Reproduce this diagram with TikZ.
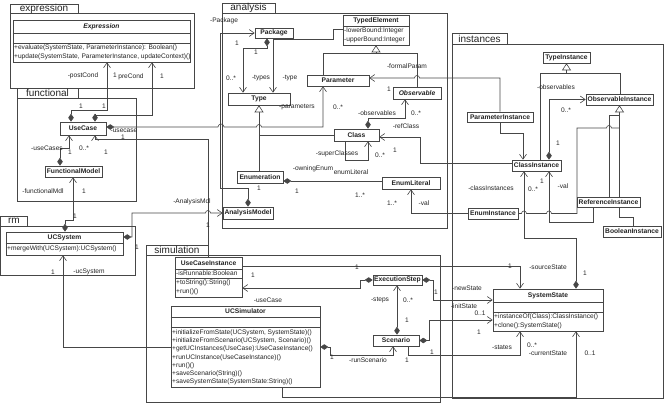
\documentclass[tikz,border=0pt]{standalone}
\usepackage{fontspec}
\setmainfont{Liberation Sans}
\usetikzlibrary{arrows.meta}
\pgfdeclarelayer{frames}
\pgfdeclarelayer{bg}
\pgfsetlayers{frames,bg,main}
\definecolor{ln}{RGB}{70,70,70}
\definecolor{tx}{RGB}{35,35,35}
\tikzset{
  box/.style={draw=ln, fill=white, line width=0.6pt, inner sep=0pt, font=\fontsize{6.7}{8}\selectfont\bfseries, text=tx},
  frame/.style={draw=ln, line width=0.6pt},
  tab/.style={draw=ln, line width=0.6pt, inner sep=0pt, font=\fontsize{10}{12}\selectfont, text=tx},
  lbl/.style={inner sep=0pt, font=\fontsize{6.6}{8}\selectfont, text=tx},
  ttl/.style={inner sep=0pt, font=\fontsize{6.7}{8}\selectfont\bfseries, text=tx},
  op/.style={lbl, anchor=west},
  cn/.style={draw=ln, line width=0.6pt},
  arr/.style={cn, -{Straight Barb[length=5pt,width=7pt]}},
  comp/.style={cn, {Diamond[length=8pt,width=5.5pt]}-},
  comparr/.style={cn, {Diamond[length=8pt,width=5.5pt]}-{Straight Barb[length=5pt,width=7pt]}},
  gen/.style={cn, -{Triangle[open,length=7pt,width=9pt,fill=white]}},
}
\newcommand\compline[2]{\draw[cn] (#1.west |- 0,#2) -- (#1.east |- 0,#2);}
\begin{document}
\begin{tikzpicture}[x=1pt,y=-1pt]
\useasboundingbox (0,0) rectangle (667,404);
% ---------------- frames ----------------
\begin{pgfonlayer}{frames}
\draw[frame] (10,13) rectangle (194,88);
\node[tab, minimum width=68pt, minimum height=9pt] (texpr) at (44,8.5) {expression};
\draw[frame] (222,13) rectangle (447,228);
\node[tab, minimum width=53pt, minimum height=10pt] (tana) at (248.5,8) {analysis};
\draw[frame] (17,98) rectangle (136,201);
\node[tab, minimum width=61pt, minimum height=10pt] (tfun) at (47.5,93) {functional};
\draw[frame] (452,44) rectangle (663,398);
\node[tab, minimum width=55pt, minimum height=11pt] (tins) at (479.5,38.5) {instances};
\draw[frame] (0.4,226) rectangle (135,275);
\node[tab, minimum width=27pt, minimum height=10pt] (trm) at (13.9,221) {rm};
\draw[frame] (146,255) rectangle (440,402);
\node[tab, minimum width=62pt, minimum height=10pt] (tsim) at (177,250) {simulation};
\end{pgfonlayer}
% ---------------- classes ----------------
% Expression
\node[box, minimum width=177pt, minimum height=42pt] (ex) at (101.5,41) {};
\node[ttl, font=\fontsize{6.7}{8}\selectfont\bfseries\itshape] (exT) at (101.5,26.5) {Expression};
\compline{ex}{33}\compline{ex}{43}
\node[op] (exO1) at (14,48) {+evaluate(SystemState, ParameterInstance): Boolean()};
\node[op] (exO2) at (14,57) {+update(SystemState, ParameterInstance, updateContext)()};
% functional
\node[box, minimum width=46pt, minimum height=13pt] (uc) at (83,128.5) {UseCase};
\node[box, minimum width=57pt, minimum height=11pt] (fm) at (73.5,171.5) {FunctionalModel};
% rm
\node[box, minimum width=117pt, minimum height=23pt] (ucs) at (64.5,243.5) {};
\node[ttl] (ucsT) at (64.5,237.5) {UCSystem};
\compline{ucs}{243}
\node[op] (ucsO) at (7,249) {+mergeWith(UCSystem):UCSystem()};
% analysis
\node[box, minimum width=50pt, minimum height=12pt] (am) at (248,213) {AnalysisModel};
\node[box, minimum width=38pt, minimum height=10pt] (pkg) at (274,33) {Package};
\node[box, minimum width=66pt, minimum height=30pt] (te) at (376,30) {};
\node[ttl] (teT) at (376,20.5) {TypedElement};
\compline{te}{26}
\node[op] (teA1) at (344,31) {-lowerBound:Integer};
\node[op] (teA2) at (344,39.5) {-upperBound:Integer};
\node[box, minimum width=62pt, minimum height=12pt] (type) at (259,99) {Type};
\node[box, minimum width=62pt, minimum height=11pt] (par) at (338,80.5) {Parameter};
\node[box, minimum width=48pt, minimum height=12pt, font=\fontsize{6.7}{8}\selectfont\bfseries\itshape] (obs) at (417,93) {Observable};
\node[box, minimum width=45pt, minimum height=12pt] (cls) at (356.5,135) {Class};
\node[box, minimum width=46pt, minimum height=12pt] (enum) at (260,177) {Enumeration};
\node[box, minimum width=58pt, minimum height=12pt] (el) at (411,183) {EnumLiteral};
% instances
\node[box, minimum width=47pt, minimum height=11pt] (ti) at (566.5,57.5) {TypeInstance};
\node[box, minimum width=67pt, minimum height=11pt] (oi) at (619.5,99.5) {ObservableInstance};
\node[box, minimum width=66pt, minimum height=10pt] (pi) at (500,117) {ParameterInstance};
\node[box, minimum width=49pt, minimum height=11pt] (ci) at (536.5,165.5) {ClassInstance};
\node[box, minimum width=50pt, minimum height=11pt] (ei) at (493,213.5) {EnumInstance};
\node[box, minimum width=63pt, minimum height=10pt] (ri) at (608.5,202) {ReferenceInstance};
\node[box, minimum width=58pt, minimum height=11pt] (bi) at (632,231.5) {BooleanInstance};
\node[box, minimum width=110pt, minimum height=42pt] (ss) at (548,310) {};
\node[ttl] (ssT) at (548,295.5) {SystemState};
\compline{ss}{302}\compline{ss}{312}
\node[op] (ssO1) at (494,317) {+instanceOf(Class):ClassInstance()};
\node[op] (ssO2) at (494,325.5) {+clone():SystemState()};
% simulation
\node[box, minimum width=67pt, minimum height=40pt] (uci) at (208.5,277) {};
\node[ttl] (uciT) at (208.5,263) {UseCaseInstance};
\compline{uci}{269}\compline{uci}{278}
\node[op] (uciA) at (176,273.5) {-isRunnable:Boolean};
\node[op] (uciO1) at (176,283) {+toString():String()};
\node[op] (uciO2) at (176,292) {+run()()};
\node[box, minimum width=149pt, minimum height=81pt] (ucsim) at (245.5,346.5) {};
\node[ttl] (ucsimT) at (245.5,311.5) {UCSimulator};
\compline{ucsim}{317}\compline{ucsim}{327}
\node[op] (sO1) at (172,332.5) {+initializeFromState(UCSystem, SystemState)()};
\node[op] (sO2) at (172,340.5) {+initializeFromScenario(UCSystem, Scenario)()};
\node[op] (sO3) at (172,349) {+getUCInstances(UseCase):UseCaseInstance()};
\node[op] (sO4) at (172,357.5) {+runUCInstance(UseCaseInstance)()};
\node[op] (sO5) at (172,365.5) {+run()()};
\node[op] (sO6) at (172,374) {+saveScenario(String)()};
\node[op] (sO7) at (172,382) {+saveSystemState(SystemState:String)()};
\node[box, minimum width=49pt, minimum height=10pt] (es) at (397.5,280) {ExecutionStep};
\node[box, minimum width=46pt, minimum height=11pt] (sc) at (396,340.5) {Scenario};
% ---------------- connectors ----------------
\begin{pgfonlayer}{bg}
\draw[comparr] (uc.north -| 71,0) |- (107,110) -- (ex.south -| 107,0);
\draw[comparr] (uc.north -| 95,0) |- (152,115) -- (ex.south -| 152,0);
\draw[comparr] (fm.north -| 60,0) |- (69,148) -- (uc.south -| 69,0);
\draw[comparr] (ucs.north -| 65,0) |- (73,220) -- (fm.south -| 73,0);
\draw[arr] (uci.north -| 208,0) |- (95,139) -- (uc.south -| 95,0);
\draw[comparr] (uc.east |- 0,127) -- (218,127) arc[start angle=180,end angle=0,radius=3pt] -- (256.5,127) arc[start angle=180,end angle=0,radius=2.5pt] -| (par.south -| 323,0);
\draw[comparr] (ucs.east |- 0,237) -- (132,237) -- (132,213) -- (205.5,213) arc[start angle=180,end angle=0,radius=2.5pt] -- (am.west);
\draw[arr] (ucsim.west |- 0,347) -| (ucs.south -| 63,0);
\draw[comparr] (am.north -| 248,0) |- (220,188) |- (pkg.west);
\draw[comparr] (pkg.south -| 267,0) |- (243,48) -- (type.north -| 243,0);
\draw[arr] (te.west |- 0,29) -| (333,39) -| (type.north -| 273,0);
\draw[gen] (par.north -| 323,0) |- (te.south |- 0,53) -- (te.south);
\draw[cn] (obs.north -| 417,0) |- (te.south |- 0,53);
\draw[gen] (enum.north -| type.south) -- (type.south);
\draw[cn] (cls.west) -| (type.south |- 0,120);
\draw[comparr] (cls.north -| 368,0) |- (405,118) -- (obs.south -| 405,0);
\draw[arr] (cls.south -| 345,0) |- (368,160) -- (cls.south -| 368,0);
\draw[arr] (ci.west |- 0,163) -| (420,137) -- (cls.east |- 0,137);
\draw[comp] (enum.east |- 0,181) -- (el.west |- 0,181);
\draw[arr] (ei.west) -| (el.south -| 411,0);
\draw[arr] (pi.north -| 500,0) |- (419.5,78) arc[start angle=0,end angle=180,radius=2.5pt] -- (par.east |- 0,78);
\draw[arr] (pi.south -| 500,0) |- (523,133) -- (ci.north -| 523,0);
\draw[gen] (ci.north -| 540,0) |- (ti.south |- 0,73) -- (ti.south);
\draw[cn] (oi.north -| 620,0) |- (ti.south |- 0,73);
\draw[comparr] (ci.north -| 549,0) |- (oi.west);
\draw[gen] (bi.north -| 633,0) |- (oi.south |- 0,217) -- (oi.south);
\draw[cn] (ri.north -| 609,0) |- (oi.south |- 0,115);
\draw[cn] (ei.east) -- (521.5,213.5) arc[start angle=180,end angle=0,radius=2.5pt] -- (546.5,213.5) arc[start angle=180,end angle=0,radius=2.5pt] -- (577,213.5) |- (606.5,128) arc[start angle=180,end angle=0,radius=2.5pt] -- (oi.south |- 0,128);
\draw[arr] (ri.south -| 593,0) |- (549,222) -- (ci.south -| 549,0);
\draw[comparr] (ss.north -| 576,0) |- (524,238) -- (ci.south -| 524,0);
\draw[arr] (uci.east |- 0,266) -| (ss.north -| 520,0);
\draw[comparr] (es.west) -- (360,280) |- (uci.east |- 0,288);
\draw[comparr] (es.east) -- (433,280) |- (ss.west |- 0,300);
\draw[comparr] (sc.north -| 397,0) -- (es.south -| 397,0);
\draw[comparr] (sc.east) -- (429,340.5) |- (ss.west |- 0,320);
\draw[arr] (sc.south -| 408,0) |- (520,355) -- (ss.south -| 520,0);
\draw[comparr] (ucsim.east |- 0,347) -- (330,347) |- (393,355) -- (sc.south -| 393,0);
\draw[arr] (ucsim.south -| 282,0) |- (576,397) -- (ss.south -| 576,0);
\end{pgfonlayer}
% ---------------- labels ----------------
\node[lbl] (l1) at (83,76) {-postCond};
\node[lbl] (l2) at (115,75) {1};
\node[lbl] (l3) at (131,76.5) {preCond};
\node[lbl] (l4) at (162,76.5) {1};
\node[lbl] (l5) at (81,106) {1};
\node[lbl] (l6) at (104,106) {1};
\node[lbl] (l7) at (124,130.5) {-usecase};
\node[lbl] (l8) at (123,137.5) {1};
\node[lbl] (l9) at (47,148) {-useCases};
\node[lbl] (l10) at (70,152) {1};
\node[lbl] (l11) at (84,148) {0..*};
\node[lbl] (l12) at (106,152) {1};
\node[lbl] (l13) at (43,191) {-functionalMdl};
\node[lbl] (l14) at (84,191) {1};
\node[lbl] (l15) at (75,216) {1};
\node[lbl] (l16) at (192,202) {-AnalysisMdl};
\node[lbl] (l17) at (208,225) {1};
\node[lbl] (l18) at (137,247) {1};
\node[lbl] (l19) at (224,20.5) {-Package};
\node[lbl] (l20) at (237,43) {1};
\node[lbl] (l21) at (256,52) {1};
\node[lbl] (l22) at (231,78.5) {0..*};
\node[lbl] (l23) at (261,78.5) {-types};
\node[lbl] (l24) at (290,78) {-type};
\node[lbl] (l25) at (297,107) {-parameters};
\node[lbl] (l26) at (338,107) {0..*};
\node[lbl] (l27) at (407,66) {-formalParam};
\node[lbl] (l28) at (389,89) {1};
\node[lbl] (l29) at (377,113) {-observables};
\node[lbl] (l30) at (416,113) {0..*};
\node[lbl] (l31) at (406,126) {-refClass};
\node[lbl] (l32) at (337,154) {-superClasses};
\node[lbl] (l33) at (380,155) {0..*};
\node[lbl] (l34) at (395,150) {1};
\node[lbl] (l35) at (313,168.5) {-owningEnum};
\node[lbl] (l36) at (351,172) {enumLiteral};
\node[lbl] (l37) at (259,188.5) {1};
\node[lbl] (l38) at (297,191.5) {1};
\node[lbl] (l39) at (360,195) {1..*};
\node[lbl] (l40) at (392,203.5) {1..*};
\node[lbl] (l41) at (424,203.5) {-val};
\node[lbl] (l42) at (556,87) {-observables};
\node[lbl] (l43) at (566,110) {0..*};
\node[lbl] (l44) at (558,143) {1};
\node[lbl] (l45) at (491,188) {-classInstances};
\node[lbl] (l46) at (533,189) {0..*};
\node[lbl] (l47) at (542,181) {1};
\node[lbl] (l48) at (563,186) {-val};
\node[lbl] (l49) at (548,267) {-sourceState};
\node[lbl] (l50) at (510,266) {1};
\node[lbl] (l51) at (585,273) {1};
\node[lbl] (l52) at (467,288) {-newState};
\node[lbl] (l53) at (464,306) {-initState};
\node[lbl] (l54) at (480,313.5) {0..1};
\node[lbl] (l55) at (479,332) {1};
\node[lbl] (l56) at (502,347) {-states};
\node[lbl] (l57) at (532,345) {0..*};
\node[lbl] (l58) at (548,353.5) {-currentState};
\node[lbl] (l59) at (590,353.5) {0..1};
\node[lbl] (l60) at (253,275) {1};
\node[lbl] (l61) at (268,300) {-useCase};
\node[lbl] (l62) at (357,267) {1};
\node[lbl] (l63) at (380,300) {-steps};
\node[lbl] (l64) at (408,300) {0..*};
\node[lbl] (l65) at (407,320) {1};
\node[lbl] (l66) at (436,292) {1};
\node[lbl] (l67) at (332,357) {1};
\node[lbl] (l68) at (368,360) {-runScenario};
\node[lbl] (l69) at (407,360) {1};
\node[lbl] (l70) at (432,352) {1};
\node[lbl] (l71) at (53,272) {1};
\node[lbl] (l72) at (89,272) {-ucSystem};
\end{tikzpicture}
\end{document}
